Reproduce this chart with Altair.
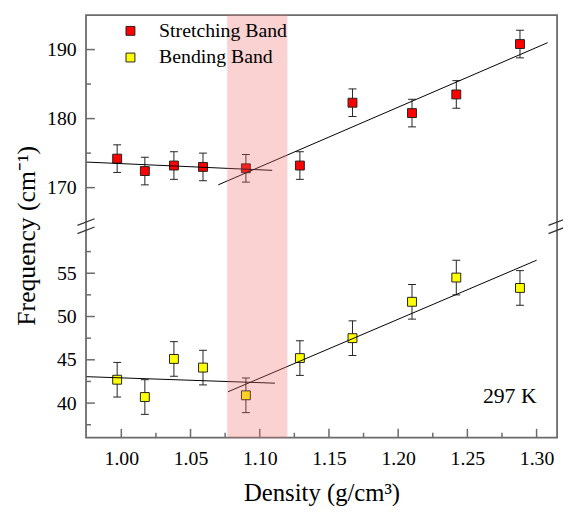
import altair as alt
import pandas as pd

# ---------------- data ----------------
density = [0.997, 1.017, 1.038, 1.059, 1.090, 1.129, 1.167, 1.210, 1.242, 1.288]
stretching = [174.2, 172.4, 173.2, 173.0, 172.8, 173.2, 182.3, 180.8, 183.5, 190.8]
stretching_err = [2.0, 2.0, 2.0, 2.0, 2.0, 2.0, 2.0, 2.0, 2.0, 2.0]
bending = [42.7, 40.7, 45.1, 44.1, 40.9, 45.2, 47.5, 51.7, 54.5, 53.3]
bending_err = [2.0, 2.0, 2.0, 2.0, 2.0, 2.0, 2.0, 2.0, 2.0, 2.0]

series_names = ["Stretching Band", "Bending Band"]
series_colors = ["#ff0000", "#ffff00"]

fit_names = ["str_low", "str_high", "bend_low", "bend_high"]
fit_x = [[0.975, 1.109], [1.070, 1.308], [0.975, 1.111], [1.077, 1.300]]
fit_y = [[173.7, 172.5], [170.4, 191.0], [43.05, 42.3], [41.3, 56.5]]

band_range = [1.0765, 1.120]

x_major = [1.00, 1.05, 1.10, 1.15, 1.20, 1.25, 1.30]
x_minor = [1.025, 1.075, 1.125, 1.175, 1.225, 1.275]
y_major = [40, 45, 50, 55, 170, 180, 190]
y_minor = [37.5, 42.5, 47.5, 52.5, 57.5, 175, 185]
x_domain = [0.9745, 1.3148]
y_domain = [36, 60, 165, 195]

annotation = "297 K"
annotation_pos = [1.30, 40.0]

x_title = "Density (g/cm³)"
y_title = "Frequency (cm⁻¹)"

# ---------------- tables ----------------
pts = pd.concat([
    pd.DataFrame({"x": density, "y": stretching,
                  "lo": [v - e for v, e in zip(stretching, stretching_err)],
                  "hi": [v + e for v, e in zip(stretching, stretching_err)],
                  "band": series_names[0]}),
    pd.DataFrame({"x": density, "y": bending,
                  "lo": [v - e for v, e in zip(bending, bending_err)],
                  "hi": [v + e for v, e in zip(bending, bending_err)],
                  "band": series_names[1]}),
], ignore_index=True)

fits = pd.concat([
    pd.DataFrame({"x": xs, "y": ys, "line": n})
    for n, xs, ys in zip(fit_names, fit_x, fit_y)
], ignore_index=True)

band_df = pd.DataFrame({"start": [band_range[0]], "end": [band_range[1]]})
xmaj_df = pd.DataFrame({"v": x_major})
xmin_df = pd.DataFrame({"v": x_minor})
ymaj_df = pd.DataFrame({"v": y_major})
ymin_df = pd.DataFrame({"v": y_minor})
ann_df = pd.DataFrame({"x": [annotation_pos[0]], "y": [annotation_pos[1]], "t": [annotation]})

W, H = 477, 428
FONT = "Liberation Serif"
FRAME = "#6b6b6b"

xscale = alt.Scale(domain=x_domain, nice=False, zero=False)
yscale = alt.Scale(domain=y_domain, range=[H, 217.6, 209.7, 0], nice=False, zero=False)

xaxis = alt.Axis(values=x_major, format=".2f", title=x_title, ticks=False, tickSize=0,
                 domain=False, grid=False, labelFont=FONT, labelFontSize=20,
                 labelColor="black", labelPadding=11, titleFont=FONT, titleFontSize=25,
                 titleFontWeight="normal", titleColor="black", titleX=W / 2,
                 titleY=64, titleBaseline="alphabetic", titleAlign="center")
yaxis = alt.Axis(values=y_major, format="d", title=y_title, ticks=False, tickSize=0,
                 domain=False, grid=False, labelFont=FONT, labelFontSize=20,
                 labelColor="black", labelPadding=10, titleFont=FONT, titleFontSize=26,
                 titleFontWeight="normal", titleColor="black", titleX=-52,
                 titleY=223, titleAngle=270, titleBaseline="alphabetic",
                 titleAlign="center")


def X(field):
    return alt.X(field, type="quantitative", scale=xscale, axis=xaxis)


def Y(field):
    return alt.Y(field, type="quantitative", scale=yscale, axis=yaxis)


def XD(v):
    return alt.XDatum(v, type="quantitative", scale=xscale, axis=xaxis)


def YD(v):
    return alt.YDatum(v, type="quantitative", scale=yscale, axis=yaxis)


xmin_val = x_domain[0]
ymin_val = y_domain[0]

# ticks drawn inward
xt_major = alt.Chart(xmaj_df).mark_rule(color=FRAME, strokeWidth=1.5, y2Offset=-9).encode(
    x=X("v"), y=YD(ymin_val), y2=alt.datum(ymin_val))
xt_minor = alt.Chart(xmin_df).mark_rule(color=FRAME, strokeWidth=1.5, y2Offset=-5).encode(
    x=X("v"), y=YD(ymin_val), y2=alt.datum(ymin_val))
yt_major = alt.Chart(ymaj_df).mark_rule(color=FRAME, strokeWidth=1.5, x2Offset=9).encode(
    y=Y("v"), x=XD(xmin_val), x2=alt.datum(xmin_val))
yt_minor = alt.Chart(ymin_df).mark_rule(color=FRAME, strokeWidth=1.5, x2Offset=5).encode(
    y=Y("v"), x=XD(xmin_val), x2=alt.datum(xmin_val))

err_rule = alt.Chart(pts).mark_rule(color="#222222", strokeWidth=1).encode(
    x=X("x"), y=Y("lo"), y2="hi")
cap_lo = alt.Chart(pts).mark_tick(orient="horizontal", size=8, thickness=1,
                                  color="#222222", opacity=1).encode(x=X("x"), y=Y("lo"))
cap_hi = alt.Chart(pts).mark_tick(orient="horizontal", size=8, thickness=1,
                                  color="#222222", opacity=1).encode(x=X("x"), y=Y("hi"))

points = alt.Chart(pts).mark_square(size=81, filled=True, stroke="#222222",
                                    strokeWidth=1, opacity=1).encode(
    x=X("x"), y=Y("y"),
    color=alt.Color("band:N",
                    scale=alt.Scale(domain=series_names, range=series_colors),
                    legend=alt.Legend(orient="none", legendX=35, legendY=6, title=None,
                                      symbolType="square", symbolSize=81,
                                      symbolStrokeColor="#222222", symbolStrokeWidth=1,
                                      symbolOpacity=1,
                                      labelFont=FONT, labelFontSize=20, labelColor="black",
                                      labelOffset=19, rowPadding=7, padding=0)))

lines = alt.Chart(fits).mark_line(color="black", strokeWidth=1).encode(
    x=X("x"), y=Y("y"), detail="line:N")

band = alt.Chart(band_df).mark_rect(color="#ee6969", opacity=0.3).encode(
    x=X("start"), x2="end")

ann = alt.Chart(ann_df).mark_text(font=FONT, fontSize=22, align="right",
                                  baseline="alphabetic", color="black").encode(
    x=X("x"), y=Y("y"), text="t:N")

# axis break marks (decoration)
brk = []
for bx in [0, W]:
    for dy in [0, 8.3]:
        brk.append(alt.Chart(band_df).mark_rule(color="#333333", strokeWidth=1.2).encode(
            x=alt.value(bx - 8.7), x2=alt.value(bx + 8.7),
            y=alt.value(213 + dy), y2=alt.value(206.3 + dy)))

chart = alt.layer(
    xt_major, xt_minor, yt_major, yt_minor,
    err_rule, cap_lo, cap_hi, points, lines, band, ann, *brk
).properties(
    width=W, height=H,
    autosize=alt.AutoSizeParams(type="none"),
    padding={"left": 79, "top": 4, "right": 6, "bottom": 66},
).configure_view(stroke=FRAME, strokeWidth=1.8)

chart.save("out.html", embed_options={"renderer": "svg", "actions": False})
